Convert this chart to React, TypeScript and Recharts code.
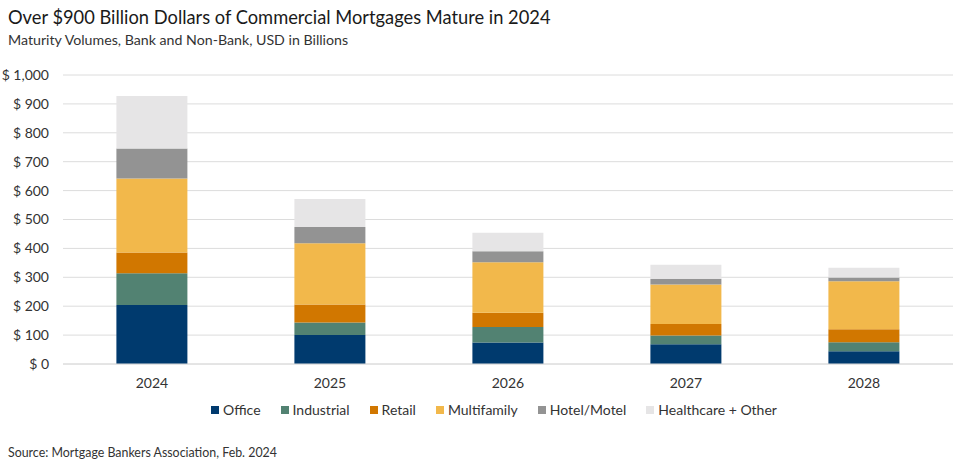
import { Bar, BarChart, CartesianGrid, XAxis, YAxis } from 'recharts';

const years = ['2024', '2025', '2026', '2027', '2028'];
const office = [204, 100, 74, 68, 44];
const industrial = [110, 44, 54, 31, 31];
const retail = [72, 62, 49, 39, 45];
const multifamily = [256, 212, 175, 137, 166];
const hotel = [104, 56, 38, 20, 13];
const other = [181, 97, 64, 48, 34];
const yTicks = [0, 100, 200, 300, 400, 500, 600, 700, 800, 900, 1000];

const series = [
  { key: 'office', name: 'Office', values: office, color: '#003A6E' },
  { key: 'industrial', name: 'Industrial', values: industrial, color: '#528272' },
  { key: 'retail', name: 'Retail', values: retail, color: '#D17700' },
  { key: 'multifamily', name: 'Multifamily', values: multifamily, color: '#F2B84B' },
  { key: 'hotel', name: 'Hotel/Motel', values: hotel, color: '#939393' },
  { key: 'other', name: 'Healthcare + Other', values: other, color: '#E6E5E6' },
];

const data = years.map((year, i) => {
  const row: Record<string, string | number> = { year };
  series.forEach((s) => {
    row[s.key] = s.values[i];
  });
  return row;
});

const FONT = 'Lato, "Open Sans", sans-serif';
const fmt = (v: number) => `$ ${v.toLocaleString('en-US')}`;

export default function App() {
  return (
    <div
      style={{
        position: 'absolute',
        top: 0,
        left: 0,
        width: 956,
        height: 467,
        background: '#fff',
        fontFamily: FONT,
        color: '#1a1a1a',
      }}
    >
      <div style={{ position: 'absolute', left: 8, top: 5, fontSize: 18.3, lineHeight: '24px' }}>
        Over $900 Billion Dollars of Commercial Mortgages Mature in 2024
      </div>
      <div style={{ position: 'absolute', left: 8, top: 31, fontSize: 14.2, lineHeight: '18px', color: '#333' }}>
        Maturity Volumes, Bank and Non-Bank, USD in Billions
      </div>

      <div style={{ position: 'absolute', left: 0, top: 0 }}>
        <BarChart
          width={956}
          height={467}
          data={data}
          margin={{ top: 75, right: 3, left: 0, bottom: 73 }}
          barCategoryGap="30%"
        >
          <CartesianGrid vertical={false} stroke="#DCDCDC" />
          <XAxis
            dataKey="year"
            height={30}
            tickLine={false}
            axisLine={{ stroke: '#DCDCDC' }}
            tickMargin={8}
            tick={{ fill: '#333', fontSize: 14, fontFamily: FONT }}
          />
          <YAxis
            width={63}
            domain={[0, 1000]}
            ticks={yTicks}
            interval={0}
            tickFormatter={fmt}
            axisLine={false}
            tickLine={false}
            tickMargin={8}
            tick={{ fill: '#333', fontSize: 14, fontFamily: FONT }}
          />
          {series.map((s) => (
            <Bar key={s.key} dataKey={s.key} name={s.name} stackId="a" fill={s.color} isAnimationActive={false} />
          ))}
        </BarChart>
      </div>

      <div
        style={{
          position: 'absolute',
          left: 211,
          top: 401,
          display: 'flex',
          alignItems: 'center',
          gap: 20,
          fontSize: 14,
          lineHeight: '18px',
          color: '#333',
        }}
      >
        {series.map((s) => (
          <div key={s.key} style={{ display: 'flex', alignItems: 'center', gap: 4 }}>
            <span style={{ display: 'inline-block', width: 8, height: 8, background: s.color }} />
            <span>{s.name}</span>
          </div>
        ))}
      </div>

      <div style={{ position: 'absolute', left: 8, top: 445, fontSize: 12.4, lineHeight: '16px', color: '#333' }}>
        Source: Mortgage Bankers Association, Feb. 2024
      </div>
    </div>
  );
}
